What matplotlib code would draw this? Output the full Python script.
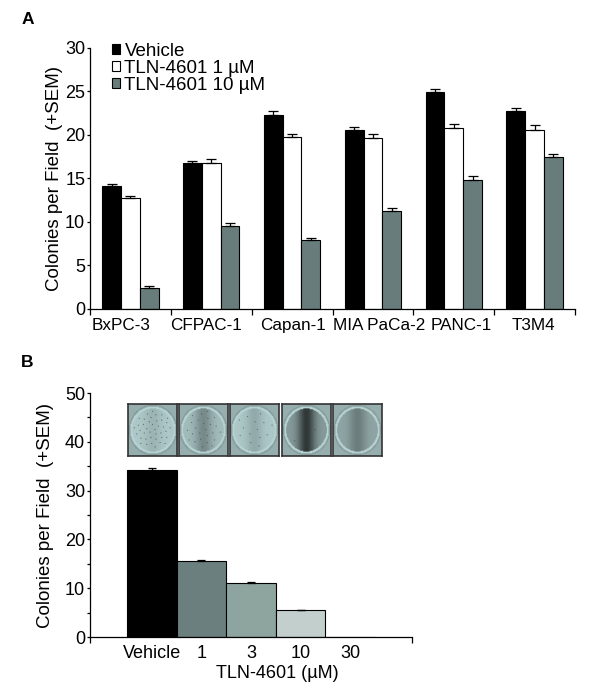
import numpy as np
import matplotlib
matplotlib.use("Agg")
import matplotlib.pyplot as plt
import matplotlib.transforms as mtransforms

plt.rcParams['font.family'] = ['Liberation Sans', 'DejaVu Sans']

# ---------------- Data: panel A ----------------
cell_lines = ["BxPC-3", "CFPAC-1", "Capan-1", "MIA PaCa-2", "PANC-1", "T3M4"]
series_names = ["Vehicle", "TLN-4601 1 \u00b5M", "TLN-4601 10 \u00b5M"]
vehicle = [14.1, 16.7, 22.3, 20.5, 24.9, 22.7]
tln_1um = [12.7, 16.8, 19.7, 19.6, 20.8, 20.5]
tln_10um = [2.4, 9.5, 7.9, 11.2, 14.8, 17.4]
vehicle_sem = [0.26, 0.34, 0.46, 0.35, 0.42, 0.34]
tln_1um_sem = [0.26, 0.39, 0.38, 0.46, 0.45, 0.61]
tln_10um_sem = [0.15, 0.38, 0.27, 0.35, 0.42, 0.45]

# ---------------- Data: panel B ----------------
doses = ["Vehicle", "1", "3", "10", "30"]
colonies_b = [34.3, 15.5, 11.1, 5.5, 0.0]
colonies_b_sem = [0.3, 0.35, 0.15, 0.12, 0.0]

W, H = 600, 699
fig = plt.figure(figsize=(W / 100, H / 100), dpi=100)

def frac_rect(l, t, r, b):
    return [l / W, 1 - b / H, (r - l) / W, (b - t) / H]

FS = 13
FS_LAB = 13.5
FS_CAT = 12.3

# ---------------- Panel A ----------------
axA = fig.add_axes(frac_rect(90, 48, 575, 308.5))
colors_a = ["black", "white", "#687c7c"]
vals = [vehicle, tln_1um, tln_10um]
sems = [vehicle_sem, tln_1um_sem, tln_10um_sem]
bw = 0.232
x = np.arange(len(cell_lines))
for i, (v, s, c, name) in enumerate(zip(vals, sems, colors_a, series_names)):
    xs = x + (i - 1) * bw
    axA.bar(xs, v, width=bw, color=c, edgecolor="black", linewidth=0.8,
            label=name, zorder=2)
    axA.errorbar(xs, v, yerr=[np.zeros(len(v)), s], fmt="none",
                 ecolor="black", elinewidth=0.9, capsize=3.5, capthick=0.9,
                 zorder=3)
axA.set_xlim(-0.5, len(cell_lines) - 0.5)
axA.set_ylim(0, 30)
axA.set_yticks(np.arange(0, 31, 5))
axA.set_xticks(np.arange(-0.5, len(cell_lines), 1.0))
axA.set_xticklabels([])
axA.set_xticks(x, minor=True)
axA.set_xticklabels(cell_lines, minor=True)
axA.tick_params(axis="x", which="major", direction="out", length=4, width=0.9)
axA.tick_params(axis="x", which="minor", length=0, pad=6.5, labelsize=FS_CAT)
axA.tick_params(axis="y", which="major", direction="out", length=2.5, width=0.9,
                pad=1, labelsize=FS)
# small horizontal nudges of category labels (pixels), as in the original layout
label_dx = [-9, -5, 1, 6, 7, -1]
for lbl, dx in zip(axA.get_xticklabels(minor=True), label_dx):
    lbl.set_transform(lbl.get_transform() +
                      mtransforms.ScaledTranslation(dx / 100, 0, fig.dpi_scale_trans))
for sp in ["top", "right"]:
    axA.spines[sp].set_visible(False)
for sp in ["left", "bottom"]:
    axA.spines[sp].set_linewidth(0.9)
axA.set_ylabel("Colonies per Field  (+SEM)", fontsize=FS_LAB)
axA.yaxis.set_label_coords(-27 / 485, 0.5)
leg = axA.legend(loc="upper left", bbox_to_anchor=(0.046, 1.02), frameon=False,
                 fontsize=FS_LAB, handlelength=0.4, handleheight=0.45,
                 handletextpad=0.25, labelspacing=0.0, borderpad=0,
                 borderaxespad=0)

fig.text(22 / W, 1 - 19 / H, "A", fontsize=12.5, fontweight="bold",
         ha="left", va="center")

# ---------------- Panel B ----------------
axB = fig.add_axes(frac_rect(90, 393, 412, 637))
colors_b = ["black", "#6b7f7f", "#8ea49f", "#c3cfcd", "white"]
xb = np.arange(len(doses))
axB.bar(xb, colonies_b, width=1.0, color=colors_b, edgecolor="black",
        linewidth=0.8, zorder=2)
axB.errorbar(xb[:4], colonies_b[:4],
             yerr=[np.zeros(4), colonies_b_sem[:4]], fmt="none",
             ecolor="black", elinewidth=0.9, capsize=3.2, capthick=0.9, zorder=3)
axB.set_xlim(-1.25, 5.25)
axB.set_ylim(0, 50)
axB.set_yticks(np.arange(0, 51, 10))
axB.set_yticks(np.arange(5, 50, 10), minor=True)
axB.set_xticks([-1.25, 5.25])
axB.set_xticklabels([])
axB.set_xticks(xb, minor=True)
axB.set_xticklabels(doses, minor=True)
axB.tick_params(axis="x", which="major", direction="out", length=4, width=0.9)
axB.tick_params(axis="x", which="minor", length=0, pad=5.5, labelsize=FS)
axB.tick_params(axis="y", which="both", direction="out", length=2.5, width=0.9,
                pad=1, labelsize=FS)
for sp in ["top", "right"]:
    axB.spines[sp].set_visible(False)
for sp in ["left", "bottom"]:
    axB.spines[sp].set_linewidth(0.9)
axB.set_ylabel("Colonies per Field  (+SEM)", fontsize=FS_LAB)
axB.yaxis.set_label_coords(-36 / 322, 0.5)
axB.set_xlabel("TLN-4601 (\u00b5M)", fontsize=FS, va="center")
axB.xaxis.set_label_coords((277 - 90) / 322, -37 / 244)

fig.text(21 / W, 1 - 363 / H, "B", fontsize=12.5, fontweight="bold",
         ha="left", va="center")

# ---------------- Well photographs (decorative) ----------------
def make_well(band, base_dark, n_dots):
    n = 60
    u, v = np.meshgrid(np.linspace(-1, 1, n), np.linspace(-1, 1, n))
    r = np.sqrt(u ** 2 + v ** 2)
    img = np.full((n, n), 0.70)
    inside = r < 0.84
    shade = 0.80 - base_dark - band * np.exp(-(u / 0.35) ** 2)
    img[inside] = shade[inside]
    ring = (r >= 0.84) & (r < 0.93)
    img[ring] = 0.84
    rim = (r >= 0.93) & (r < 0.99)
    img[rim] = 0.62
    for k in range(n_dots):
        rr = 0.76 * np.sqrt((k + 0.5) / max(n_dots, 1))
        th = k * 2.39996
        cx = int((rr * np.cos(th) + 1) / 2 * (n - 1))
        cy = int((rr * np.sin(th) + 1) / 2 * (n - 1))
        img[cy, cx] = 0.25
    img = np.clip(img, 0, 1)
    rgb = np.stack([img * 0.85, img * 0.98, img * 0.98], axis=-1)
    return np.clip(rgb, 0, 1)

well_params = [(0.08, 0.0, 40), (0.20, 0.05, 25), (0.12, 0.0, 14),
               (0.40, 0.18, 2), (0.16, 0.14, 0)]
lefts = [128, 179, 230, 282, 333]
for left, (band, bd, nd) in zip(lefts, well_params):
    axi = fig.add_axes(frac_rect(left, 404, left + 49, 456))
    axi.imshow(make_well(band, bd, nd), aspect="auto", interpolation="bilinear")
    axi.set_xticks([])
    axi.set_yticks([])
    for sp in axi.spines.values():
        sp.set_color("#333333")
        sp.set_linewidth(1.2)

fig.savefig("out.png", dpi=100)
